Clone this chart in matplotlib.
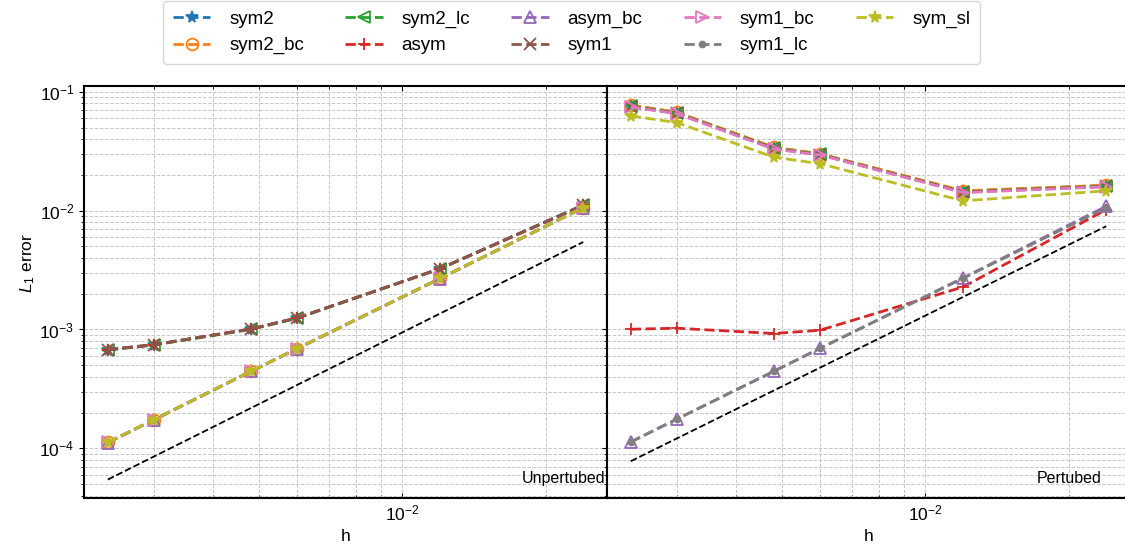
import numpy as np
import matplotlib
matplotlib.use("Agg")
import matplotlib.pyplot as plt

plt.rcParams['font.family'] = ['Liberation Sans', 'DejaVu Sans']
plt.rcParams['mathtext.fontset'] = 'custom'
plt.rcParams['mathtext.rm'] = 'Liberation Sans'
plt.rcParams['mathtext.it'] = 'Liberation Sans:italic'
plt.rcParams['font.size'] = 12.5

# mesh sizes
h = [0.0024, 0.003, 0.0048, 0.006, 0.012, 0.024]

names = ['sym2', 'sym2_bc', 'sym2_lc', 'asym', 'asym_bc',
         'sym1', 'sym1_bc', 'sym1_lc', 'sym_sl']
markers = ['*', 'o', '<', '+', '^', 'x', '>', '.', '*']
filled = ['*', '+', 'x', '.']

# L1 errors, unperturbed mesh
err_unpert = {
    'sym2':    [6.75e-4, 7.45e-4, 1.01e-3, 1.25e-3, 3.26e-3, 1.12e-2],
    'sym2_bc': [1.12e-4, 1.74e-4, 4.45e-4, 6.90e-4, 2.70e-3, 1.06e-2],
    'sym2_lc': [6.70e-4, 7.40e-4, 1.00e-3, 1.24e-3, 3.24e-3, 1.11e-2],
    'asym':    [6.75e-4, 7.45e-4, 1.01e-3, 1.25e-3, 3.25e-3, 1.11e-2],
    'asym_bc': [1.11e-4, 1.73e-4, 4.43e-4, 6.88e-4, 2.68e-3, 1.06e-2],
    'sym1':    [6.77e-4, 7.45e-4, 1.01e-3, 1.25e-3, 3.25e-3, 1.11e-2],
    'sym1_bc': [1.12e-4, 1.74e-4, 4.45e-4, 6.90e-4, 2.69e-3, 1.06e-2],
    'sym1_lc': [1.12e-4, 1.74e-4, 4.45e-4, 6.90e-4, 2.69e-3, 1.06e-2],
    'sym_sl':  [1.12e-4, 1.74e-4, 4.45e-4, 6.90e-4, 2.69e-3, 1.06e-2],
}

# L1 errors, perturbed mesh
err_pert = {
    'sym2':    [0.0770, 0.0670, 0.0340, 0.0300, 0.0146, 0.0163],
    'sym2_bc': [0.0775, 0.0675, 0.0342, 0.0302, 0.0147, 0.0164],
    'sym2_lc': [0.0760, 0.0665, 0.0336, 0.0298, 0.0144, 0.0161],
    'asym':    [1.005e-3, 1.025e-3, 9.25e-4, 9.86e-4, 2.28e-3, 1.02e-2],
    'asym_bc': [1.13e-4, 1.76e-4, 4.45e-4, 6.93e-4, 2.72e-3, 1.09e-2],
    'sym1':    [0.0750, 0.0660, 0.0332, 0.0296, 0.0143, 0.0160],
    'sym1_bc': [0.0746, 0.0656, 0.0330, 0.0295, 0.0142, 0.0159],
    'sym1_lc': [1.13e-4, 1.76e-4, 4.45e-4, 6.93e-4, 2.70e-3, 1.06e-2],
    'sym_sl':  [0.0628, 0.0552, 0.0282, 0.0249, 0.0121, 0.0147],
}

# second order reference slopes (values at h[0] and h[-1])
ref_unpert = [5.45e-5, 5.45e-3]
ref_pert = [7.78e-5, 7.4e-3]

fig, axes = plt.subplots(1, 2, sharey=True, figsize=(11.25, 5.5), dpi=100)
# the right panel runs slightly past the figure edge
fig.subplots_adjust(left=0.0747, right=1.0044, top=0.843, bottom=0.094, wspace=0)

panels = [(err_unpert, ref_unpert, 'Unpertubed', 0.996),
          (err_pert, ref_pert, 'Pertubed', 0.9465)]
for ax, (errs, ref, title, tx) in zip(axes, panels):
    for i, (name, m) in enumerate(zip(names, markers)):
        mfc = 'C%d' % i if m in filled else 'none'
        ax.loglog(h, errs[name], ls='--', lw=2, marker=m, ms=8.5, mfc=mfc,
                  mew=1.3, color='C%d' % i, label=name)
    ax.loglog([h[0], h[-1]], ref, ls='--', lw=1.3, color='black')
    ax.text(tx, 0.03, title, transform=ax.transAxes, ha='right', va='bottom',
            fontsize=11.5)
    ax.grid(which='both', ls='--', color='#c8c8c8', lw=0.7)
    ax.set_xlabel('h')
    ax.tick_params(axis='x', which='both', direction='in', top=True)
    ax.tick_params(axis='y', which='both', direction='out')
    for s in ax.spines.values():
        s.set_linewidth(1.5)

axes[0].set_ylabel('$L_1$ error')
axes[0].yaxis.set_label_coords(-0.09, 0.572)
handles, labels = axes[0].get_legend_handles_labels()
fig.legend(handles, labels, loc='upper center', bbox_to_anchor=(0.508, 1.015),
           ncol=5, fontsize=13.5, columnspacing=2.2, handletextpad=1.0,
           borderpad=0.5)

fig.savefig('out.png')
